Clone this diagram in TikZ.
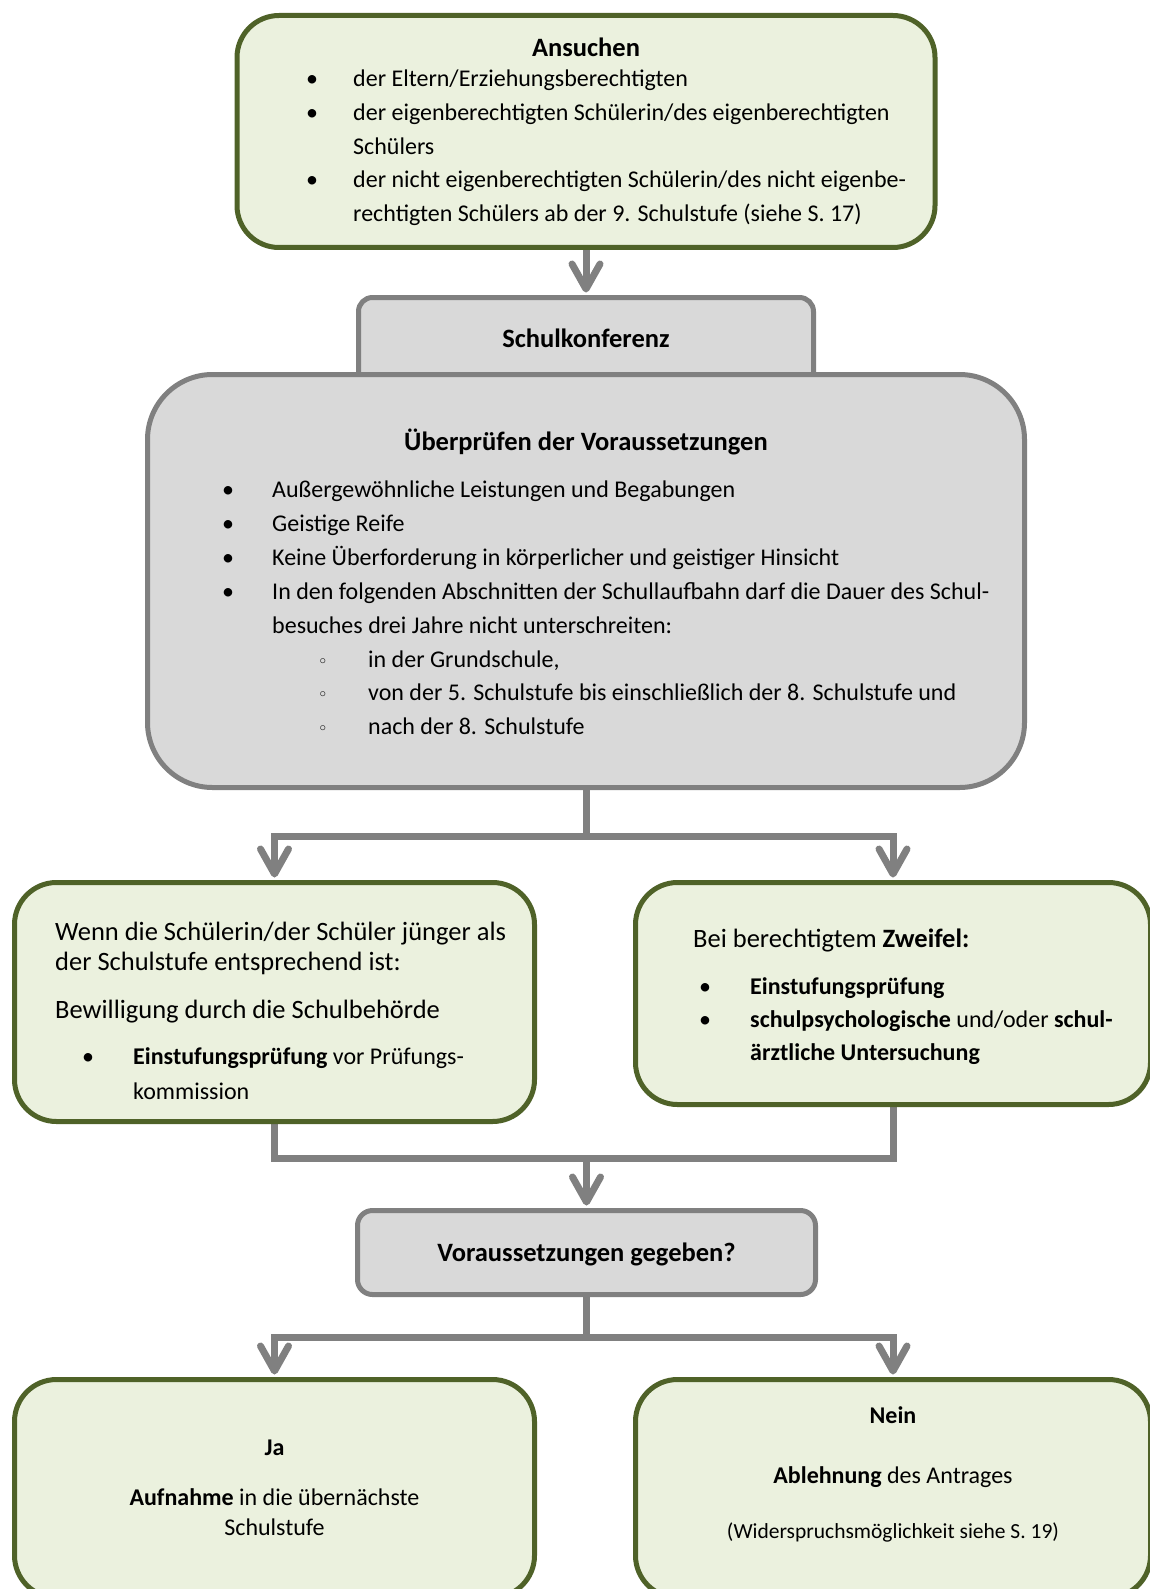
\documentclass[tikz,border=0pt]{standalone}
\usepackage{fontspec}
\setmainfont{Carlito}
\newfontfamily\symfont{DejaVu Sans}
\usetikzlibrary{arrows.meta,backgrounds}
\definecolor{greenfill}{HTML}{EBF1DE}
\definecolor{greenline}{HTML}{4F6228}
\definecolor{grayfill}{HTML}{D9D9D9}
\definecolor{grayline}{HTML}{808080}
\newcommand\szbase{\fontsize{24}{29}\selectfont}
\newcommand\szbig{\fontsize{26.5}{32}\selectfont}
\newcommand\szsmall{\fontsize{21.5}{26}\selectfont}
\newcommand\subbul{{\symfont\fontsize{17}{17}\selectfont ◦}}
\tikzset{
  greenbox/.style={draw=greenline, fill=greenfill, line width=5pt, rounded corners=42pt, inner sep=0pt},
  graybox/.style={draw=grayline, fill=grayfill, line width=5pt, inner sep=0pt},
  txt/.style={inner sep=0pt, anchor=base west, font=\szbase},
  bigtxt/.style={inner sep=0pt, anchor=base west, font=\szbig},
  ctxt/.style={inner sep=0pt, anchor=base, font=\szbase},
  headtxt/.style={inner sep=0pt, anchor=base, font=\szbig\bfseries},
  bul/.style={inner sep=0pt, anchor=base, font=\szbase},
  conn/.style={draw=grayline, line width=7pt},
  arr/.style={conn, -{Straight Barb[length=25pt,width=28pt,round]}}
}
\begin{document}
\begin{tikzpicture}[x=1pt,y=-1pt]
\useasboundingbox (0,0) rectangle (1150,1589);
\clip (0,0) rectangle (1150,1589);

% boxes
\node[greenbox, minimum width=698pt, minimum height=232pt] (A) at (586,131.5) {};
\node[graybox, rounded corners=14pt, minimum width=455pt, minimum height=102pt] (S) at (586,348.5) {};
\node[graybox, rounded corners=65pt, minimum width=877pt, minimum height=413pt] (P) at (586,581) {};
\node[greenbox, minimum width=520pt, minimum height=239pt] (L) at (274.5,1002) {};
\node[greenbox, minimum width=515pt, minimum height=222pt] (R) at (893,993.5) {};
\node[graybox, rounded corners=15pt, minimum width=458pt, minimum height=84pt] (V) at (586.5,1252.5) {};
\node[greenbox, minimum width=520pt, minimum height=218pt] (Ja) at (274.5,1488.5) {};
\node[greenbox, minimum width=515pt, minimum height=218pt] (Nein) at (893,1488.5) {};

% junctions
\coordinate (J1) at (586,836);
\coordinate (J2) at (586.5,1158);
\coordinate (J3) at (586.5,1337);

\begin{scope}[on background layer]
\draw[arr] (A.south) -- ([yshift=2.5pt]S.north);
\draw[conn] (P.south) -- (J1);
\draw[arr] (J1) -| ([yshift=2.5pt]L.north);
\draw[arr] (J1) -| ([yshift=2.5pt]R.north);
\draw[conn] (L.south) |- (J2);
\draw[conn] (R.south) |- (J2);
\draw[arr] (J2) -- ([yshift=2.5pt]V.north);
\draw[conn] (V.south) -- (J3);
\draw[arr] (J3) -| ([yshift=2.5pt]Ja.north);
\draw[arr] (J3) -| ([yshift=2.5pt]Nein.north);
\end{scope}

% Ansuchen
\node[headtxt] (a0) at (586,57) {Ansuchen};
\node[bul] (ab1) at (312,87) {•};
\node[txt] (a1) at (353,87) {der Eltern/Erziehungsberechtigten};
\node[bul] (ab2) at (312,121) {•};
\node[txt] (a2) at (353,121) {der eigenberechtigten Schülerin/des eigenberechtigten};
\node[txt] (a3) at (353,155) {Schülers};
\node[bul] (ab4) at (312,188) {•};
\node[txt] (a4) at (353,188) {der nicht eigenberechtigten Schülerin/des nicht eigenbe-};
\node[txt] (a5) at (353,222) {rechtigten Schülers ab der 9. Schulstufe (siehe S. 17)};

% Schulkonferenz
\node[headtxt] (s0) at (586,347) {Schulkonferenz};

% Pruefen
\node[headtxt] (p0) at (586,450) {Überprüfen der Voraussetzungen};
\node[bul] (pb1) at (228,497) {•};
\node[txt] (p1) at (272,497) {Außergewöhnliche Leistungen und Begabungen};
\node[bul] (pb2) at (228,531) {•};
\node[txt] (p2) at (272,531) {Geistige Reife};
\node[bul] (pb3) at (228,565) {•};
\node[txt] (p3) at (272,565) {Keine Überforderung in körperlicher und geistiger Hinsicht};
\node[bul] (pb4) at (228,599) {•};
\node[txt] (p4) at (272,599) {In den folgenden Abschnitten der Schullaufbahn darf die Dauer des Schul-};
\node[txt] (p5) at (272,633) {besuches drei Jahre nicht unterschreiten:};
\node[bul] (ps1) at (323,667) {\subbul};
\node[txt] (p6) at (368,667) {in der Grundschule,};
\node[bul] (ps2) at (323,700.5) {\subbul};
\node[txt] (p7) at (368,700.5) {von der 5. Schulstufe bis einschließlich der 8. Schulstufe und};
\node[bul] (ps3) at (323,734) {\subbul};
\node[txt] (p8) at (368,734) {nach der 8. Schulstufe};

% left middle
\node[bigtxt] (l1) at (55,940) {Wenn die Schülerin/der Schüler jünger als};
\node[bigtxt] (l2) at (55,970) {der Schulstufe entsprechend ist:};
\node[bigtxt] (l3) at (55,1018) {Bewilligung durch die Schulbehörde};
\node[bul] (lb1) at (88,1064) {•};
\node[txt] (l4) at (133,1064) {\textbf{Einstufungsprüfung} vor Prüfungs-};
\node[txt] (l5) at (133,1099) {kommission};

% right middle
\node[bigtxt] (r1) at (693,947) {Bei berechtigtem \textbf{Zweifel:}};
\node[bul] (rb1) at (705,994) {•};
\node[txt] (r2) at (750,994) {\textbf{Einstufungsprüfung}};
\node[bul] (rb2) at (705,1027) {•};
\node[txt] (r3) at (750,1027) {\textbf{schulpsychologische} und/oder \textbf{schul-}};
\node[txt] (r4) at (750,1060) {\textbf{ärztliche Untersuchung}};

% decision
\node[headtxt] (v0) at (586.5,1261) {Voraussetzungen gegeben?};

% Ja
\node[ctxt, font=\szbase\bfseries] (j1) at (274.5,1455) {Ja};
\node[ctxt] (j2) at (274.5,1505) {\textbf{Aufnahme} in die übernächste};
\node[ctxt] (j3) at (274.5,1535) {Schulstufe};

% Nein
\node[ctxt, font=\szbase\bfseries] (n1) at (893,1423) {Nein};
\node[ctxt] (n2) at (893,1483) {\textbf{Ablehnung} des Antrages};
\node[ctxt, font=\szsmall] (n3) at (893,1538) {(Widerspruchsmöglichkeit siehe S. 19)};
\end{tikzpicture}
\end{document}
